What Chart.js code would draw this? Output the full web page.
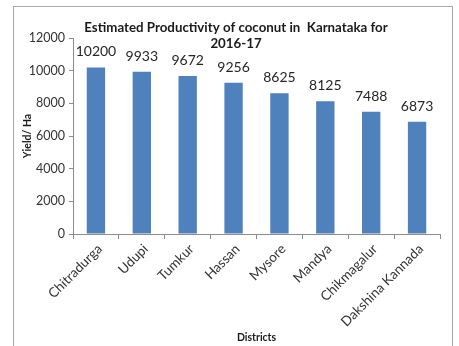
<!DOCTYPE html>
<html>
<head>
<meta charset="utf-8">
<script src="https://cdn.jsdelivr.net/npm/chart.js@4"></script>
<style>
  html, body { margin: 0; padding: 0; background: #fff; }
  #wrap { position: relative; width: 459px; height: 346px; }
  #frame { position: absolute; left: 13px; top: 6px; width: 440px; height: 345px; border: 1px solid #a8a8a8; box-sizing: border-box; pointer-events: none; }
  canvas { position: absolute; left: 0; top: 0; }
</style>
</head>
<body>
<div id="wrap">
  <canvas id="c" width="459" height="346"></canvas>
  <div id="frame"></div>
</div>
<script>
const categories = ["Chitradurga", "Udupi", "Tumkur", "Hassan", "Mysore", "Mandya", "Chikmagalur", "Dakshina Kannada"];
const yieldValues = [10200, 9933, 9672, 9256, 8625, 8125, 7488, 6873];
const titleLines = ["Estimated Productivity of coconut in  Karnataka for", "2016-17"];
const yAxisTitle = "Yield/ Ha";
const xAxisTitle = "Districts";

const FONT = "Lato, 'Open Sans', sans-serif";

const titlePlugin = {
  id: 'overlayTitle',
  afterDraw(chart) {
    const ctx = chart.ctx;
    ctx.save();
    ctx.font = "bold 13.3px " + FONT;
    ctx.fillStyle = "#1a1a1a";
    ctx.textAlign = "center";
    ctx.textBaseline = "middle";
    const cx = 236;
    titleLines.forEach((t, i) => ctx.fillText(t, cx, 28 + i * 16));
    ctx.restore();
  }
};

const labelPlugin = {
  id: 'valueLabels',
  afterDatasetsDraw(chart) {
    const ctx = chart.ctx;
    const meta = chart.getDatasetMeta(0);
    ctx.save();
    ctx.font = "14px " + FONT;
    ctx.fillStyle = "#262626";
    ctx.textAlign = "center";
    ctx.textBaseline = "alphabetic";
    meta.data.forEach((bar, i) => {
      ctx.fillText(String(chart.data.datasets[0].data[i]), bar.x, bar.y - 11);
    });
    ctx.restore();
  }
};

new Chart(document.getElementById('c'), {
  type: 'bar',
  data: {
    labels: categories,
    datasets: [{
      data: yieldValues,
      backgroundColor: '#4F81BD',
      borderWidth: 0,
      categoryPercentage: 1.0,
      barPercentage: 0.4
    }]
  },
  options: {
    responsive: false,
    animation: false,
    devicePixelRatio: 1,
    layout: { padding: { left: 21, right: 19, top: 38, bottom: 2 } },
    plugins: {
      legend: { display: false },
      tooltip: { enabled: false },
      title: { display: false }
    },
    scales: {
      x: {
        grid: { display: true, drawOnChartArea: false, tickLength: 5, color: '#8c8c8c', offset: true },
        border: { color: '#8c8c8c' },
        ticks: { minRotation: 45, maxRotation: 45, color: '#333', font: { family: FONT, size: 13.5 }, padding: 2, labelOffset: 4, autoSkip: false },
        title: { display: true, text: xAxisTitle, color: '#1a1a1a', font: { family: FONT, size: 10.5, weight: 'bold' }, padding: { top: 0, bottom: 0 } },
        afterFit(scale) { scale.height = 110; }
      },
      y: {
        min: 0, max: 12000,
        grid: { display: true, drawOnChartArea: false, tickLength: 4, color: '#8c8c8c' },
        border: { color: '#8c8c8c' },
        ticks: { stepSize: 2000, color: '#333', font: { family: FONT, size: 12.5 }, padding: 4, callback: (v) => String(v) },
        title: { display: true, text: yAxisTitle, color: '#1a1a1a', font: { family: FONT, size: 10.5, weight: 'bold' }, padding: { top: 0, bottom: 2 } },
        afterFit(scale) { scale.width = 52; }
      }
    }
  },
  plugins: [titlePlugin, labelPlugin]
});
</script>
</body>
</html>
